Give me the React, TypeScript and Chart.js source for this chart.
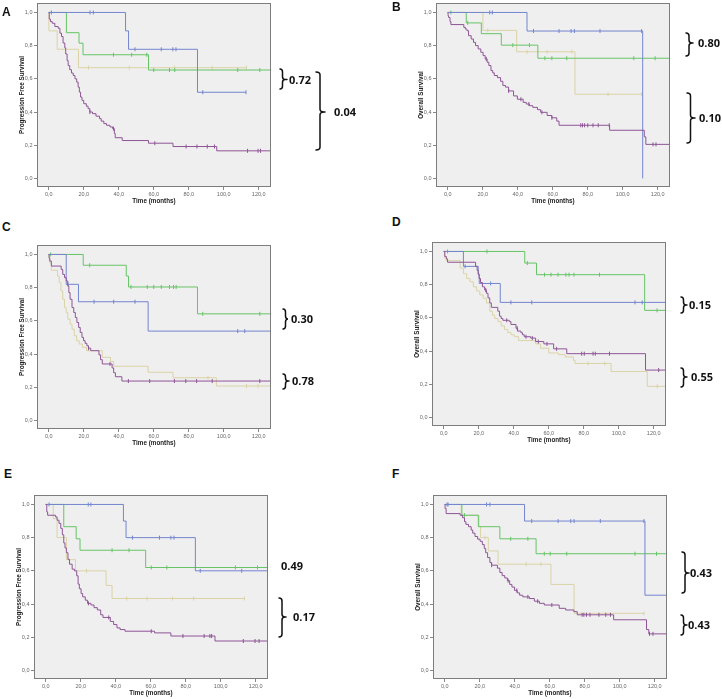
import React, { useEffect, useRef } from "react";
import { Chart, registerables } from "chart.js";

Chart.register(...registerables);

type Step = [number, number];

// ---------- axis ticks ----------
const xTicks = [0, 20, 40, 60, 80, 100, 120];
const yTicks = [0, 0.2, 0.4, 0.6, 0.8, 1.0];
const X_MIN = -6.7;
const X_MAX = 127;
const Y_MIN = -0.052;
const Y_MAX = 1.057;

// ---------- Panel A : Progression Free Survival ----------
const aBlueSteps: Step[] = [[43.9, 0.889], [45.6, 0.778], [85, 0.519]];
const aBlueEnd = 112.7;
const aBlueCens = [1.5, 23.6, 25.5, 49.3, 64.3, 70.9, 72.7, 88, 112.7];
const aGreenSteps: Step[] = [[10.1, 0.878], [17.3, 0.815], [19.6, 0.745], [57, 0.653]];
const aGreenEnd = 127;
const aGreenCens = [37, 47.4, 56, 60, 69, 72, 108, 120.6];
const aTanSteps: Step[] = [[0.1, 0.889], [4.8, 0.778], [17, 0.667]];
const aTanEnd = 113;
const aTanCens = [22.7, 46, 71.8, 93.4, 113];
const aPurpleSteps: Step[] = [
  [0.3, 0.96], [1, 0.945], [2, 0.935], [3.5, 0.915], [5.4, 0.905], [6.4, 0.875], [7.3, 0.855],
  [8.2, 0.816], [9.2, 0.786], [9.7, 0.75], [10.5, 0.71], [11.1, 0.68], [12, 0.655], [13, 0.635],
  [14, 0.62], [15, 0.6], [16, 0.58], [16.8, 0.55], [17.5, 0.52], [18.2, 0.49], [19, 0.47],
  [20, 0.45], [21.5, 0.435], [22.5, 0.42], [23.5, 0.4], [25, 0.39], [27, 0.375], [29, 0.36],
  [30, 0.345], [31.5, 0.33], [33, 0.32], [35, 0.31], [36.5, 0.3], [37.5, 0.27], [38, 0.245],
  [42, 0.228], [57, 0.212], [71, 0.192], [96, 0.166],
];
const aPurpleEnd = 127;
const aPurpleCens = [23.5, 37, 60.6, 78.5, 84.7, 90.6, 94.7, 113.6, 119.6, 121];

// ---------- Panel B : Overall Survival ----------
const bBlueSteps: Step[] = [[45.3, 0.888], [111.4, 0]];
const bBlueEnd = 111.4;
const bBlueCens = [24, 25.5, 49, 63.6, 70.5, 72.4, 87, 110.8];
const bGreenSteps: Step[] = [[10.6, 0.937], [19.2, 0.872], [30.6, 0.803], [51.5, 0.724]];
const bGreenEnd = 127;
const bGreenCens = [1.8, 11.4, 37.2, 46.7, 55.5, 59.5, 68, 106.3, 118.5];
const bTanSteps: Step[] = [[20.1, 0.892], [39.4, 0.763], [72.7, 0.507]];
const bTanEnd = 110.8;
const bTanCens = [22.9, 45.3, 56.8, 70.9, 91.6, 110.8];
const bPurpleSteps: Step[] = [
  [0.2, 0.98], [0.5, 0.97], [1.3, 0.945], [1.8, 0.927], [9.2, 0.91], [10.1, 0.9], [11, 0.89],
  [11.9, 0.86], [13.4, 0.84], [14.7, 0.82], [15.9, 0.8], [17.4, 0.78], [18.9, 0.76], [20.2, 0.74],
  [21.4, 0.72], [22.5, 0.7], [23.5, 0.68], [24.7, 0.65], [25.7, 0.636], [26.6, 0.62], [28.4, 0.607],
  [30.2, 0.585], [31.5, 0.56], [33, 0.55], [34.8, 0.527], [37.6, 0.497], [39.8, 0.477], [43.1, 0.458],
  [44.9, 0.448], [46.7, 0.438], [48.6, 0.428], [51.3, 0.414], [53.1, 0.398], [56.8, 0.379],
  [59.5, 0.365], [62.3, 0.345], [63.6, 0.32], [92.5, 0.29], [112.3, 0.25], [113.2, 0.205],
];
const bPurpleEnd = 127;
const bPurpleCens = [22, 34.8, 41.8, 46.4, 53.8, 59.5, 76, 77, 78.2, 80, 83, 86, 92.3, 117.3, 119];

// ---------- Panel C : Progression Free Survival ----------
const cGreenSteps: Step[] = [[19.7, 0.935], [44.3, 0.87], [45.6, 0.804], [85, 0.642]];
const cGreenEnd = 127;
const cGreenCens = [1.1, 23.4, 47, 56.3, 60, 64.3, 69, 71.3, 72.8, 88, 120.6];
const cBlueSteps: Step[] = [[10, 0.82], [17, 0.715], [56.8, 0.538]];
const cBlueEnd = 127;
const cBlueCens = [10.9, 25.9, 37.1, 49.3, 108, 112];
const cTanSteps: Step[] = [
  [0.2, 0.97], [0.6, 0.95], [1.5, 0.905], [5, 0.87], [6, 0.83], [7, 0.78], [8, 0.73], [9, 0.68],
  [10, 0.65], [10.9, 0.61], [12.2, 0.58], [13.3, 0.55], [14.6, 0.51], [15.9, 0.48], [17.4, 0.46],
  [19.3, 0.44], [21.6, 0.42], [30.6, 0.38], [35.3, 0.355], [37.1, 0.326], [56.8, 0.29], [71, 0.257],
  [95.8, 0.207],
];
const cTanEnd = 127;
const cTanCens = [91, 113, 119.6];
const cPurpleSteps: Step[] = [
  [0.2, 0.98], [0.6, 0.96], [1.5, 0.93], [7.1, 0.91], [8, 0.88], [9, 0.86], [10, 0.84], [10.9, 0.81],
  [11.5, 0.77], [12.2, 0.73], [13.3, 0.68], [14.3, 0.65], [15.2, 0.62], [16.1, 0.59], [17.1, 0.56],
  [18, 0.53], [19, 0.5], [19.9, 0.48], [20.8, 0.464], [21.8, 0.45], [22.7, 0.435], [24, 0.42],
  [28.7, 0.395], [29.6, 0.366], [30.6, 0.34], [36.2, 0.316], [37.1, 0.287], [38.1, 0.263],
  [41.8, 0.237],
];
const cPurpleEnd = 127;
const cPurpleCens = [22.7, 35, 45.5, 57.7, 71.8, 78.3, 84.5, 93.4, 120.6];

// ---------- Panel D : Overall Survival ----------
const dGreenSteps: Step[] = [[46.3, 0.93], [53, 0.86], [114.8, 0.645]];
const dGreenEnd = 127.9;
const dGreenCens = [2.2, 24.7, 47.8, 57.6, 61.3, 65.3, 69.8, 71.6, 74.4, 89, 121.9];
const dBlueSteps: Step[] = [[11.25, 0.91], [19.7, 0.86], [20.3, 0.807], [32.3, 0.693]];
const dBlueEnd = 127.9;
const dBlueCens = [12.2, 26.8, 38.4, 50.3, 109.3, 113.4];
const dTanSteps: Step[] = [
  [0.6, 0.96], [1.5, 0.945], [9.4, 0.9], [11.25, 0.866], [13.1, 0.837], [15, 0.817], [16.9, 0.787],
  [18.8, 0.762], [20.6, 0.738], [22.5, 0.718], [24.4, 0.689], [26.3, 0.64], [27.8, 0.616],
  [29.1, 0.596], [31, 0.577], [32.8, 0.551], [34.7, 0.53], [36.6, 0.512], [38.4, 0.498],
  [40.3, 0.486], [42.8, 0.463], [52.5, 0.443], [55.3, 0.417], [60, 0.388], [65.6, 0.378],
  [69.4, 0.364], [74.1, 0.344], [75, 0.325], [95.6, 0.276], [116.3, 0.187],
];
const dTanEnd = 127.9;
const dTanCens = [82.5, 92, 122];
const dPurpleSteps: Step[] = [
  [0.6, 0.97], [1.5, 0.955], [2.2, 0.935], [18.2, 0.91], [19.1, 0.886], [19.7, 0.866], [20.2, 0.837],
  [21, 0.813], [22.1, 0.787], [23.4, 0.768], [24.4, 0.748], [25.3, 0.72], [26.3, 0.69], [27.2, 0.663],
  [30.9, 0.64], [31.9, 0.61], [32.8, 0.596], [33.8, 0.585], [37.5, 0.577], [38.4, 0.56], [41.3, 0.537],
  [42.2, 0.52], [44.1, 0.51], [45, 0.498], [46, 0.486], [49.7, 0.478], [52.5, 0.457], [57.2, 0.443],
  [62.8, 0.413], [70.3, 0.384], [115.3, 0.285],
];
const dPurpleEnd = 127.9;
const dPurpleCens = [24, 36, 42, 47, 50.6, 54, 59, 64.5, 78.8, 80.3, 85.3, 86.6, 94.7, 122.8];

// ---------- Panel E : Progression Free Survival ----------
const eBlueSteps: Step[] = [[44.4, 0.9], [45.9, 0.8], [85.5, 0.6]];
const eBlueEnd = 126.5;
const eBlueCens = [1.9, 24.3, 25.8, 49.6, 65, 71.5, 73.3, 88.3, 112];
const eGreenSteps: Step[] = [[10.3, 0.866], [17.4, 0.793], [19.6, 0.724], [57.1, 0.62]];
const eGreenEnd = 126.5;
const eGreenCens = [37.9, 47.6, 60.3, 69.2, 108.4, 121];
const eTanSteps: Step[] = [[4.3, 0.915], [6.5, 0.8], [11.8, 0.667], [17, 0.6], [34.5, 0.512], [37.9, 0.433]];
const eTanEnd = 113.5;
const eTanCens = [23.3, 46.3, 57.9, 72.4, 84.5, 113.5];
const ePurpleSteps: Step[] = [
  [0.6, 0.955], [1.1, 0.935], [5.6, 0.925], [6.5, 0.905], [7.6, 0.886], [8.6, 0.856], [9.5, 0.817],
  [10.3, 0.768], [11, 0.738], [11.8, 0.709], [12.7, 0.669], [13.6, 0.64], [15.1, 0.61], [16.4, 0.6],
  [17.7, 0.57], [18.5, 0.52], [19.2, 0.492], [20.2, 0.463], [21.1, 0.443], [22.6, 0.423], [23.9, 0.404],
  [25.8, 0.394], [27.6, 0.378], [29.5, 0.364], [31.4, 0.335], [32.7, 0.319], [36.9, 0.295],
  [38.8, 0.276], [40.7, 0.256], [42.5, 0.246], [45.3, 0.236], [62.2, 0.226], [71.5, 0.207], [96.7, 0.177],
];
const ePurpleEnd = 126.5;
const ePurpleCens = [24.4, 36, 60.3, 78.4, 90.5, 93.8, 94.8, 112.9, 119.6, 121.9];

// ---------- Panel F : Overall Survival ----------
const fBlueSteps: Step[] = [[45.6, 0.9], [114.4, 0.453]];
const fBlueEnd = 127.5;
const fBlueCens = [1.3, 1.9, 23.9, 25.8, 49.7, 64.8, 72, 73.9, 88.9, 113.8];
const fGreenSteps: Step[] = [[9.8, 0.935], [19.2, 0.866], [31.5, 0.793], [52.2, 0.703]];
const fGreenEnd = 127.5;
const fGreenCens = [11.3, 37.7, 47.5, 56.9, 60.3, 69.7, 108.7, 121];
const fTanSteps: Step[] = [[9.4, 0.935], [19.6, 0.866], [20.5, 0.8], [24.9, 0.72], [30.5, 0.64], [60.7, 0.518], [73.9, 0.344]];
const fTanEnd = 113.8;
const fTanCens = [23, 46.5, 55, 113.8];
const fPurpleSteps: Step[] = [
  [0.2, 0.975], [0.8, 0.945], [8.8, 0.935], [10.2, 0.92], [11.3, 0.896], [12.1, 0.88], [13.6, 0.866],
  [15.1, 0.846], [16, 0.827], [17.3, 0.807], [18.8, 0.791], [20.2, 0.778], [21.5, 0.758], [22.6, 0.734],
  [23.4, 0.709], [24.5, 0.68], [25.8, 0.65], [26.8, 0.634], [30.1, 0.616], [31.5, 0.59], [32.8, 0.571],
  [34.3, 0.557], [35.8, 0.541], [37.1, 0.518], [38.4, 0.502], [39.9, 0.482], [41.4, 0.467], [42.8, 0.453],
  [44.6, 0.443], [48.4, 0.433], [51.2, 0.417], [54.1, 0.404], [56.9, 0.394], [65.4, 0.374], [69.1, 0.364],
  [73.8, 0.354], [75.7, 0.335], [96.5, 0.305], [115.3, 0.246], [116.6, 0.22],
];
const fPurpleEnd = 127.5;
const fPurpleCens = [26.8, 36.2, 41.2, 47.5, 53.1, 61.2, 78.5, 79.5, 81, 83, 88.1, 92, 94.7, 117, 119];

// ---------- labels ----------
const panelLetters = ["A", "B", "C", "D", "E", "F"];
const yTitles = [
  "Progression Free Survival", "Overall Survival",
  "Progression Free Survival", "Overall Survival",
  "Progression Free Survival", "Overall Survival",
];
const xTitle = "Time (months)";
const pValues = ["0.72", "0.04", "0.80", "0.10", "0.30", "0.78", "0.15", "0.55", "0.49", "0.17", "0.43", "0.43"];

// ---------- styles ----------
const COLORS = { blue: "#7385cf", green: "#66c466", tan: "#dad3a6", purple: "#8e5596" };
const AXIS_FONT = '"Liberation Sans", Arial, sans-serif';
const NOTE_FONT = '"Open Sans", "Liberation Sans", Arial, sans-serif';
const YW = 34;
const XH = 24;
const BW = 238;
const BH = 187;
const PAD_T = 2;

interface SeriesDef { steps: Step[]; end: number; cens: number[]; color: string; }

const panelSeries: SeriesDef[][] = [
  [
    { steps: aPurpleSteps, end: aPurpleEnd, cens: aPurpleCens, color: COLORS.purple },
    { steps: aBlueSteps, end: aBlueEnd, cens: aBlueCens, color: COLORS.blue },
    { steps: aGreenSteps, end: aGreenEnd, cens: aGreenCens, color: COLORS.green },
    { steps: aTanSteps, end: aTanEnd, cens: aTanCens, color: COLORS.tan },
  ],
  [
    { steps: bPurpleSteps, end: bPurpleEnd, cens: bPurpleCens, color: COLORS.purple },
    { steps: bBlueSteps, end: bBlueEnd, cens: bBlueCens, color: COLORS.blue },
    { steps: bGreenSteps, end: bGreenEnd, cens: bGreenCens, color: COLORS.green },
    { steps: bTanSteps, end: bTanEnd, cens: bTanCens, color: COLORS.tan },
  ],
  [
    { steps: cPurpleSteps, end: cPurpleEnd, cens: cPurpleCens, color: COLORS.purple },
    { steps: cBlueSteps, end: cBlueEnd, cens: cBlueCens, color: COLORS.blue },
    { steps: cGreenSteps, end: cGreenEnd, cens: cGreenCens, color: COLORS.green },
    { steps: cTanSteps, end: cTanEnd, cens: cTanCens, color: COLORS.tan },
  ],
  [
    { steps: dPurpleSteps, end: dPurpleEnd, cens: dPurpleCens, color: COLORS.purple },
    { steps: dBlueSteps, end: dBlueEnd, cens: dBlueCens, color: COLORS.blue },
    { steps: dGreenSteps, end: dGreenEnd, cens: dGreenCens, color: COLORS.green },
    { steps: dTanSteps, end: dTanEnd, cens: dTanCens, color: COLORS.tan },
  ],
  [
    { steps: ePurpleSteps, end: ePurpleEnd, cens: ePurpleCens, color: COLORS.purple },
    { steps: eBlueSteps, end: eBlueEnd, cens: eBlueCens, color: COLORS.blue },
    { steps: eGreenSteps, end: eGreenEnd, cens: eGreenCens, color: COLORS.green },
    { steps: eTanSteps, end: eTanEnd, cens: eTanCens, color: COLORS.tan },
  ],
  [
    { steps: fPurpleSteps, end: fPurpleEnd, cens: fPurpleCens, color: COLORS.purple },
    { steps: fBlueSteps, end: fBlueEnd, cens: fBlueCens, color: COLORS.blue },
    { steps: fGreenSteps, end: fGreenEnd, cens: fGreenCens, color: COLORS.green },
    { steps: fTanSteps, end: fTanEnd, cens: fTanCens, color: COLORS.tan },
  ],
];

// plot-box positions (page px)
const panelBoxes = [
  { left: 37, top: 0 },
  { left: 436, top: 0 },
  { left: 37, top: 242 },
  { left: 432, top: 239 },
  { left: 34, top: 492 },
  { left: 433, top: 492 },
];
const letterPos = [
  { left: 2, top: 6 },
  { left: 392, top: 1 },
  { left: 2, top: 221 },
  { left: 392, top: 216 },
  { left: 4, top: 468 },
  { left: 392, top: 468 },
];
// braces: x0 (back), x1 (tip), y1, y2, ym, dash
const braceGeo = [
  { x0: 280, x1: 285, y1: 69, y2: 89, ym: 79.5, dash: 2 },
  { x0: 316, x1: 324, y1: 72, y2: 150, ym: 112, dash: 1 },
  { x0: 686, x1: 692, y1: 33, y2: 56, ym: 43, dash: 1 },
  { x0: 687, x1: 694, y1: 93, y2: 143, ym: 118, dash: 1 },
  { x0: 283, x1: 288, y1: 309, y2: 329, ym: 319, dash: 0 },
  { x0: 283, x1: 288, y1: 374, y2: 389, ym: 381, dash: 1 },
  { x0: 681, x1: 686, y1: 297, y2: 313, ym: 305, dash: 1 },
  { x0: 681, x1: 686, y1: 368, y2: 387, ym: 377, dash: 1 },
  { x0: 279, x1: 285, y1: 598, y2: 637, ym: 617, dash: 1 },
  { x0: 682, x1: 688, y1: 552, y2: 593, ym: 573, dash: 1 },
  { x0: 681, x1: 686, y1: 615, y2: 635, ym: 625, dash: 1 },
];
// p-value text positions (left, center y)
const pPos = [
  { left: 289, cy: 79.5 },
  { left: 334, cy: 112 },
  { left: 698, cy: 43 },
  { left: 699, cy: 118 },
  { left: 291, cy: 319 },
  { left: 292, cy: 381 },
  { left: 689, cy: 305 },
  { left: 691, cy: 377 },
  { left: 281, cy: 566 },
  { left: 293, cy: 617 },
  { left: 690, cy: 573 },
  { left: 688, cy: 625 },
];

function survAt(steps: Step[], t: number): number {
  let s = 1;
  for (const [st, sv] of steps) {
    if (st <= t) s = sv;
    else break;
  }
  return s;
}

function fmt(v: number): string {
  return Number(v).toFixed(1).replace(".", ",");
}

const framePlugin = {
  id: "kmFrame",
  beforeDraw(chart: any) {
    const { ctx, chartArea: a } = chart;
    ctx.save();
    ctx.fillStyle = "#efefef";
    ctx.fillRect(a.left, a.top, a.right - a.left, a.bottom - a.top);
    ctx.restore();
  },
  afterDraw(chart: any) {
    const { ctx, chartArea: a } = chart;
    ctx.save();
    ctx.strokeStyle = "#7d7d7d";
    ctx.lineWidth = 1;
    ctx.strokeRect(Math.round(a.left) + 0.5, Math.round(a.top) + 0.5, Math.round(a.right - a.left) - 1, Math.round(a.bottom - a.top) - 1);
    ctx.restore();
  },
};

function KMPanel({ index }: { index: number }) {
  const ref = useRef<HTMLCanvasElement>(null);
  const box = panelBoxes[index];
  const W = YW + BW + 1;
  const H = PAD_T + BH + XH;

  useEffect(() => {
    if (!ref.current) return;
    const datasets: any[] = [];
    for (const se of panelSeries[index]) {
      const last = se.steps.length ? se.steps[se.steps.length - 1][1] : 1;
      const pts = [{ x: 0, y: 1 }, ...se.steps.map(([x, y]) => ({ x, y })), { x: se.end, y: last }];
      datasets.push({
        type: "line",
        data: pts,
        stepped: "before",
        borderColor: se.color,
        borderWidth: 1,
        pointRadius: 0,
        fill: false,
        tension: 0,
      });
      datasets.push({
        type: "scatter",
        data: se.cens.map((t) => ({ x: t, y: survAt(se.steps, t) })),
        pointStyle: "line",
        rotation: 90,
        pointRadius: 2,
        borderColor: se.color,
        backgroundColor: se.color,
        borderWidth: 1,
        showLine: false,
      });
    }

    const chart = new Chart(ref.current, {
      type: "line",
      data: { datasets },
      plugins: [framePlugin],
      options: {
        animation: false,
        responsive: false,
        events: [],
        layout: { padding: { top: PAD_T, right: 1, left: 0, bottom: 0 } },
        plugins: {
          legend: { display: false },
          tooltip: { enabled: false },
          title: { display: false },
        },
        scales: {
          x: {
            type: "linear",
            min: X_MIN,
            max: X_MAX,
            afterBuildTicks: (s: any) => {
              s.ticks = xTicks.map((v) => ({ value: v }));
            },
            afterFit: (s: any) => {
              s.height = XH;
              s.paddingLeft = 0;
              s.paddingRight = 0;
            },
            ticks: {
              callback: (v: any) => fmt(v),
              font: { size: 5.5, family: AXIS_FONT },
              color: "#666",
              padding: 1.5,
              maxRotation: 0,
              autoSkip: false,
            },
            grid: { drawOnChartArea: false, drawTicks: true, tickLength: 3, color: "#888" },
            border: { display: false },
            title: {
              display: true,
              text: xTitle,
              font: { size: 6.3, weight: "bold", family: AXIS_FONT },
              color: "#222",
              padding: { top: 0, bottom: 6 },
            },
          },
          y: {
            type: "linear",
            min: Y_MIN,
            max: Y_MAX,
            afterBuildTicks: (s: any) => {
              s.ticks = yTicks.map((v) => ({ value: v }));
            },
            afterFit: (s: any) => {
              s.width = YW;
              s.paddingTop = 0;
              s.paddingBottom = 0;
            },
            ticks: {
              callback: (v: any) => fmt(v),
              font: { size: 5.5, family: AXIS_FONT },
              color: "#666",
              padding: 1.5,
              autoSkip: false,
            },
            grid: { drawOnChartArea: false, drawTicks: true, tickLength: 3, color: "#888" },
            border: { display: false },
            title: {
              display: true,
              text: yTitles[index],
              font: { size: 6.3, weight: "bold", family: AXIS_FONT },
              color: "#222",
              padding: { top: 15, bottom: 0 },
            },
          },
        },
      } as any,
    });
    return () => chart.destroy();
  }, [index]);

  return (
    <canvas
      ref={ref}
      width={W}
      height={H}
      style={{ position: "absolute", left: box.left - YW, top: box.top - PAD_T, width: W, height: H }}
    />
  );
}

function bracePath(b: { x0: number; x1: number; y1: number; y2: number; ym: number; dash: number }): string {
  const xm = (b.x0 + b.x1) / 2;
  const r = Math.min(3, (b.y2 - b.y1) / 4);
  return [
    `M ${b.x0} ${b.y1}`,
    `Q ${xm} ${b.y1} ${xm} ${b.y1 + r}`,
    `L ${xm} ${b.ym - r}`,
    `Q ${xm} ${b.ym} ${b.x1} ${b.ym}`,
    `Q ${xm} ${b.ym} ${xm} ${b.ym + r}`,
    `L ${xm} ${b.y2 - r}`,
    `Q ${xm} ${b.y2} ${b.x0} ${b.y2}`,
    b.dash > 0 ? `M ${b.x1} ${b.ym} L ${b.x1 + b.dash} ${b.ym}` : "",
  ].join(" ");
}

export default function App() {
  return (
    <div style={{ position: "absolute", left: 0, top: 0, width: 722, height: 699, background: "#fff", overflow: "hidden" }}>
      {panelLetters.map((_, i) => (
        <KMPanel key={i} index={i} />
      ))}
      {panelLetters.map((l, i) => (
        <div
          key={"l" + i}
          style={{
            position: "absolute",
            left: letterPos[i].left,
            top: letterPos[i].top,
            fontFamily: AXIS_FONT,
            fontWeight: "bold",
            fontSize: 12,
            lineHeight: "12px",
            color: "#111",
          }}
        >
          {l}
        </div>
      ))}
      <svg width={722} height={699} style={{ position: "absolute", left: 0, top: 0, pointerEvents: "none" }}>
        {braceGeo.map((b, i) => (
          <path key={i} d={bracePath(b)} fill="none" stroke="#111" strokeWidth={1.5} strokeLinecap="round" />
        ))}
      </svg>
      {pValues.map((p, i) => (
        <div
          key={"p" + i}
          style={{
            position: "absolute",
            left: pPos[i].left,
            top: pPos[i].cy - 8,
            height: 16,
            lineHeight: "16px",
            fontFamily: NOTE_FONT,
            fontWeight: 700,
            fontSize: 11,
            color: "#111",
            whiteSpace: "nowrap",
          }}
        >
          {p}
        </div>
      ))}
    </div>
  );
}
